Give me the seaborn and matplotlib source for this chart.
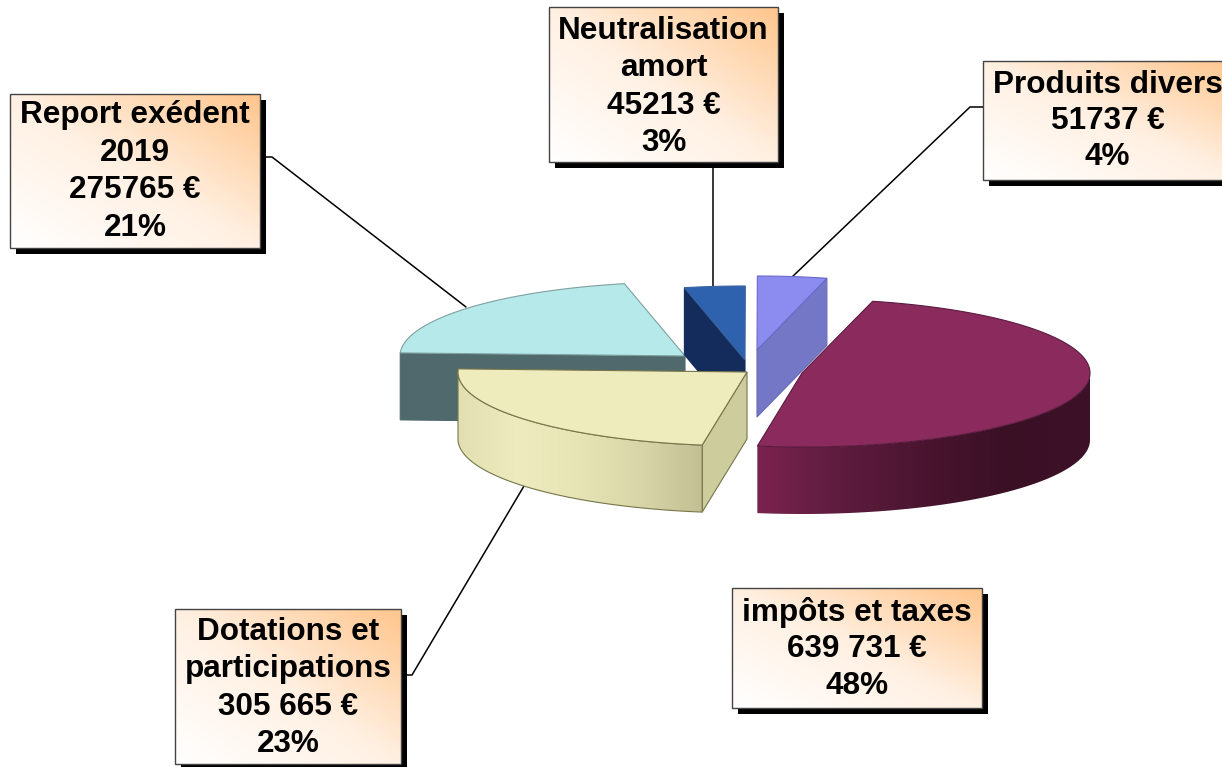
import numpy as np
import matplotlib
matplotlib.use("Agg")
import matplotlib.pyplot as plt
from matplotlib.patches import Polygon, Rectangle
from matplotlib.colors import LinearSegmentedColormap
import seaborn as sns

# ---- data -------------------------------------------------------------
categories = ["impôts et taxes", "Dotations et\nparticipations", "Report exédent\n2019",
              "Neutralisation\namort", "Produits divers"]
values = [639731, 305665, 275765, 45213, 51737]
amount_labels = ["639 731 €", "305 665 €", "275765 €", "45213 €", "51737 €"]
percent_labels = ["48%", "23%", "21%", "3%", "4%"]

top_colors = ["#8b2b5d", "#eeecbd", "#b6e9e9", "#2f62ae", "#8c8cf0"]
wall_colors = ["#6f2149", "#cdcc9c", "#4f696c", "#142c5c", "#7476c6"]
palette = sns.color_palette(top_colors)

# ---- layout ------------------------------------------------------------
W, H = 1222, 767
START = 14.2
DEPTH = 67
B = 74
centers = [(802, 373), (747, 372), (685, 356), (745, 360), (757, 350)]
radii = [288, 289, 285, 285, 285]
boxes = [(732, 588, 982, 708), (175, 609, 401, 764), (10, 94, 260, 248),
         (549, 7, 778, 162), (983, 61, 1240, 180)]
text_mid = [649, 688, 171.5, 87, 121]
line_gap = [36.5, 37.5, 37.7, 37.5, 36]
leaders = [None,
           [(401, 675), (412, 675), (524, 486)],
           [(260, 157), (272, 157), (466, 307)],
           [(713, 162), (713, 287)],
           [(983, 107), (970, 107), (791, 278)]]

sns.set_theme(style="white")
plt.rcParams["font.family"] = ["Liberation Sans", "DejaVu Sans"]
fig = plt.figure(figsize=(W / 100, H / 100), dpi=100)
ax = fig.add_axes([0, 0, 1, 1])

shares = np.array(values) / np.sum(values) * 360
ends = START + np.cumsum(shares)
starts = ends - shares


def pt(i, t):
    r = np.radians(t)
    return centers[i][0] + radii[i] * np.sin(r), centers[i][1] - B * np.cos(r)


def arc(i, t0, t1, n=120):
    return np.array([pt(i, t) for t in np.linspace(t0, t1, n)])


def gradient_fill(poly, extent, stops, z, angle=None):
    cmap = LinearSegmentedColormap.from_list("g", stops)
    if angle == "diag":
        u, v = np.meshgrid(np.linspace(0, 1, 128), np.linspace(0, 1, 128))
        img = (u + (1 - v)) / 2          # top right = 1
    else:
        img = np.linspace(0, 1, 256).reshape(1, -1)
    im = ax.imshow(img, extent=extent, cmap=cmap, aspect="auto", zorder=z, vmin=0, vmax=1)
    patch = Polygon(poly, closed=True, transform=ax.transData, fc="none", ec="none")
    ax.add_patch(patch)
    im.set_clip_path(patch)


def outline(poly, color, z, lw=0.8):
    ax.add_patch(Polygon(poly, closed=True, fc="none", ec=color, lw=lw, zorder=z))


def top(i, z, edge):
    c = np.array(centers[i])[None, :]
    poly = np.vstack([c, arc(i, starts[i], ends[i])])
    ax.add_patch(Polygon(poly, closed=True, fc=palette[i], ec=edge, lw=0.8, zorder=z))


def face(i, t, z, edge):
    c = np.array(centers[i], float)
    p = np.array(pt(i, t))
    d = np.array([0, DEPTH])
    poly = np.array([c, p, p + d, c + d])
    ax.add_patch(Polygon(poly, closed=True, fc=wall_colors[i], ec=edge, lw=0.8, zorder=z))


# back slices first
face(2, starts[2], 2, "#4f696c")
top(2, 3, "#7f9f9f")
face(3, starts[3], 4, "#142c5c")
top(3, 5, "#3a62a0")
face(4, ends[4], 4, "#6a6cb8")
top(4, 5, "#6a6ac8")

# Dotations: cut face, outer wall, top
face(1, starts[1], 6, "#77754a")
a1 = arc(1, starts[1], 270)
wall1 = np.vstack([a1, (a1 + [0, DEPTH])[::-1]])
gradient_fill(wall1, (a1[:, 0].min(), a1[:, 0].max(), H, 0),
              ["#e2e0b2", "#eeecbf", "#e6e4b4", "#d8d6a8", "#c2c092"], 7)
outline(wall1, "#77754a", 8)
top(1, 9, "#77754a")

# Impots: outer wall, top
a0 = arc(0, 90, ends[0])
wall0 = np.vstack([a0, (a0 + [0, DEPTH])[::-1]])
gradient_fill(wall0, (a0[:, 0].min(), a0[:, 0].max(), H, 0),
              ["#7a234f", "#5e1c3f", "#4a152f", "#3a1025", "#3d1228"], 10)
top(0, 11, "#5a1a40")

# Leader lines
for line in leaders:
    if line is not None:
        xs, ys = zip(*line)
        ax.plot(xs, ys, color="black", lw=1.1, zorder=1, solid_joinstyle="miter")

# Label boxes
for cat, amt, pct, (x0, y0, x1, y1), mid, gap in zip(categories, amount_labels, percent_labels,
                                                     boxes, text_mid, line_gap):
    ax.add_patch(Rectangle((x0 + 6, y0 + 6), x1 - x0, y1 - y0, fc="black", ec="none", zorder=20))
    rect = [(x0, y0), (x1, y0), (x1, y1), (x0, y1)]
    gradient_fill(rect, (x0, x1, y1, y0), ["#ffffff", "#fff0e2", "#ffc58c"], 21, angle="diag")
    outline(rect, "#444444", 22, lw=1.0)
    lines = (cat + "\n" + amt + "\n" + pct).split("\n")
    n = len(lines)
    cx = (x0 + min(x1, 1232)) / 2
    for k, s in enumerate(lines):
        ax.text(cx, mid + (k - (n - 1) / 2) * gap, s, ha="center", va="center",
                fontsize=22.7, fontweight="bold", color="black", zorder=23)

ax.set_xlim(0, W)
ax.set_ylim(H, 0)
ax.axis("off")
fig.savefig("out.png", dpi=100, facecolor="white")
